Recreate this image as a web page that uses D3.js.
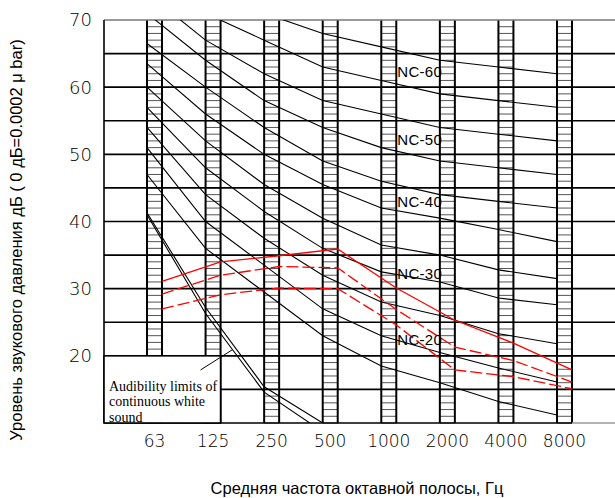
<!DOCTYPE html>
<html>
<head>
<meta charset="utf-8">
<script src="https://cdn.jsdelivr.net/npm/d3@7/dist/d3.min.js"></script>
<style>
  body { margin: 0; background: #fff; }
  svg { display: block; }
</style>
</head>
<body>
<div id="chart"></div>
<script>
// octave band centre frequencies
const freqs = ["63", "125", "250", "500", "1000", "2000", "4000", "8000"];

// NC curves as drawn, dB per octave band
const nc15 = [47, 36, 29.5, 23, 18.5, 16, 13.2, 11.2];
const nc20 = [51, 40, 33.5, 27, 23, 20.5, 18.2, 16.1];
const nc25 = [54, 44, 37.5, 32, 28, 26, 23.3, 21.8];
const nc30 = [57, 48, 41.5, 36, 32.5, 31, 28.6, 27.6];
const nc35 = [60, 52, 45.5, 40.5, 36.5, 35, 32.8, 31.5];
const nc40 = [63.5, 56, 50, 45.5, 42, 40.5, 38.8, 37];
const nc45 = [66.5, 60, 54, 49, 46, 44, 43, 42];
const nc50 = [71, 64, 58, 54, 51, 49, 48, 47];
const nc55 = [74, 67, 62, 58, 56, 54, 53, 52];
const nc60 = [77, 71, 67, 63, 61, 59, 58, 57];
const nc65 = [80, 75, 71, 68, 66, 64, 63, 62];

// labelled curves and where the label sits (dB)
const ncLabels = ["NC-60", "NC-50", "NC-40", "NC-30", "NC-20"];
const ncLabelDb = [62.3, 52.1, 43.0, 32.2, 22.4];

// audibility limits of continuous white sound (63..500 Hz)
const audibilityA = [41, 26.3, 14.6, 8.7];
const audibilityB = [41.3, 27.2, 15.4, 10];

// measured spectra (red)
const redSolid = [31.1, 34.0, 34.9, 35.9, 30.1, 25.3, 21.9, 17.9];
const redDashUpper = [29.2, 32.0, 33.3, 33.1, 26.9, 21.3, 19.3, 16.1];
const redDashLower = [27.0, 29.1, 30.1, 30.0, 24.6, 17.9, 16.9, 15.1];

const yTicks = [20, 30, 40, 50, 60, 70];

const width = 615, height = 498;
const plot = { left: 104, right: 615, top: 20, bottom: 423 };
const barW = 15;

const svg = d3.select("#chart")
    .append("svg")
    .attr("width", width)
    .attr("height", height)
    .style("background", "#fff");

// band index -> left edge of the hatched band
const x = d3.scaleLinear()
    .domain([0, 7])
    .range([147, 557]);

const y = d3.scaleLinear()
    .domain([10, 70])
    .range([plot.bottom, plot.top]);

svg.append("defs").append("clipPath")
    .attr("id", "plotClip")
    .append("rect")
    .attr("x", plot.left)
    .attr("y", plot.top)
    .attr("width", plot.right - plot.left)
    .attr("height", plot.bottom - plot.top);

// hatched bands
const bands = svg.append("g").attr("class", "bands");
freqs.forEach((f, i) => {
    const hatch = d3.range(10, 70, 1);
    bands.selectAll(null)
        .data(hatch)
        .enter()
        .append("line")
        .attr("x1", x(i))
        .attr("x2", x(i) + barW)
        .attr("y1", d => y(d))
        .attr("y2", d => y(d))
        .attr("stroke", "#555")
        .attr("stroke-width", 1);
    [x(i), x(i) + barW].forEach(xx => {
        bands.append("line")
            .attr("x1", xx).attr("x2", xx)
            .attr("y1", y(70)).attr("y2", y(10))
            .attr("stroke", "#000")
            .attr("stroke-width", 2);
    });
});

// horizontal grid every 5 dB
svg.append("g")
    .attr("class", "grid")
    .selectAll("line")
    .data(d3.range(10, 71, 5))
    .enter()
    .append("line")
    .attr("x1", plot.left)
    .attr("x2", d => d === 10 ? x(7) + barW : plot.right)
    .attr("y1", d => y(d))
    .attr("y2", d => y(d))
    .attr("stroke", d => d === 70 ? "#777" : "#000")
    .attr("stroke-width", 1.6);

// grey tail of the base line
svg.append("line")
    .attr("x1", x(7) + barW).attr("x2", plot.right)
    .attr("y1", y(10)).attr("y2", y(10))
    .attr("stroke", "#999")
    .attr("stroke-width", 1.6);

// left border
svg.append("line")
    .attr("x1", plot.left).attr("x2", plot.left)
    .attr("y1", y(70)).attr("y2", y(10))
    .attr("stroke", "#000")
    .attr("stroke-width", 1.6);

const line = d3.line()
    .x((d, i) => x(i))
    .y(d => y(d));

const curves = svg.append("g").attr("clip-path", "url(#plotClip)");

[nc15, nc20, nc25, nc30, nc35, nc40, nc45, nc50, nc55, nc60, nc65].forEach(c => {
    curves.append("path")
        .attr("d", line(c))
        .attr("fill", "none")
        .attr("stroke", "#000")
        .attr("stroke-width", 1.1);
});

[audibilityA, audibilityB].forEach(c => {
    curves.append("path")
        .attr("d", line(c))
        .attr("fill", "none")
        .attr("stroke", "#000")
        .attr("stroke-width", 1.1);
});

// red spectra drawn at the right edge of each band
const redLine = d3.line()
    .x((d, i) => x(i) + barW)
    .y(d => y(d));

[[redSolid, null], [redDashUpper, "12,4"], [redDashLower, "12,4"]].forEach(([c, dash]) => {
    curves.append("path")
        .attr("d", redLine(c))
        .attr("fill", "none")
        .attr("stroke", "#ff0000")
        .attr("stroke-width", 1.3)
        .attr("stroke-dasharray", dash);
});

// NC labels
svg.append("g")
    .selectAll("text")
    .data(ncLabels)
    .enter()
    .append("text")
    .attr("x", x(4) + barW + 1)
    .attr("y", (d, i) => y(ncLabelDb[i]))
    .attr("dy", "0.35em")
    .attr("fill", "#000")
    .style("font-family", "'Liberation Sans'")
    .style("font-size", "15px")
    .style("letter-spacing", "0.3px")
    .text(d => d);

// audibility note box
svg.append("rect")
    .attr("x", plot.left)
    .attr("y", y(20))
    .attr("width", x(1) + barW - plot.left)
    .attr("height", y(10) - y(20))
    .attr("fill", "#fff")
    .attr("stroke", "#000")
    .attr("stroke-width", 1.6);

svg.append("line")
    .attr("x1", x(1) - 5)
    .attr("y1", y(17.9))
    .attr("x2", x(1.46))
    .attr("y2", y(audibilityA[1] + 0.46 * (audibilityA[2] - audibilityA[1])))
    .attr("stroke", "#000")
    .attr("stroke-width", 1);

const note = svg.append("text")
    .attr("x", plot.left + 5)
    .attr("y", y(14.8))
    .style("font-family", "'Liberation Serif'")
    .style("font-size", "14px");
["Audibility limits of", "continuous white", "sound"].forEach((t, i) => {
    note.append("tspan")
        .attr("x", plot.left + 5)
        .attr("dy", i === 0 ? 0 : 15.5)
        .text(t);
});

// y tick labels
svg.append("g")
    .selectAll("text")
    .data(yTicks)
    .enter()
    .append("text")
    .attr("x", 92)
    .attr("y", d => y(d))
    .attr("dy", "0.36em")
    .attr("text-anchor", "end")
    .style("font-family", "'DejaVu Sans'")
    .style("font-weight", 200)
    .style("font-size", "18px")
    .text(d => d);

// x tick labels
svg.append("g")
    .selectAll("text")
    .data(freqs)
    .enter()
    .append("text")
    .attr("x", (d, i) => x(i) + barW / 2)
    .attr("y", 441)
    .attr("dy", "0.36em")
    .attr("text-anchor", "middle")
    .style("font-family", "'DejaVu Sans'")
    .style("font-weight", 200)
    .style("font-size", "17px")
    .text(d => d);

// axis titles
svg.append("text")
    .attr("x", 357)
    .attr("y", 494)
    .attr("text-anchor", "middle")
    .style("font-family", "'Liberation Sans Narrow', 'Liberation Sans'")
    .style("font-stretch", "condensed")
    .style("font-size", "16.5px")
    .text("Средняя частота октавной полосы, Гц");

svg.append("text")
    .attr("transform", "translate(22,240) rotate(-90)")
    .attr("text-anchor", "middle")
    .style("font-family", "'Liberation Sans Narrow', 'Liberation Sans'")
    .style("font-stretch", "condensed")
    .style("font-size", "16.5px")
    .text("Уровень звукового давления дБ ( 0 дБ=0.0002 μ bar)");
</script>
</body>
</html>
